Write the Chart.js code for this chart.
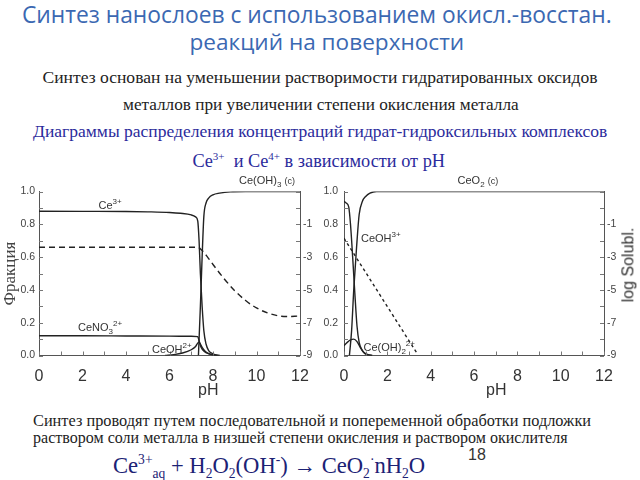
<!DOCTYPE html>
<html>
<head>
<meta charset="utf-8">
<script src="https://cdn.jsdelivr.net/npm/chart.js@4.4.0/dist/chart.umd.min.js"></script>
<style>
  body { margin: 0; background: #fff; }
  #slide { position: relative; width: 640px; height: 480px; overflow: hidden; background: #fff; }
  .t { position: absolute; white-space: nowrap; line-height: 1; }
  .ttl { font-family: "Open Sans", sans-serif; color: #3b68b2; font-size: 23px; }
  .srf { font-family: "Liberation Serif", serif; font-size: 17px; color: #222; }
  .blue { color: #2b2b9c; }
  .lbl { font-family: "Liberation Sans", sans-serif; font-size: 11px; color: #333; }
  .lbl sup, .lbl sub { font-size: 8px; }
  .ax { font-family: "Liberation Sans", sans-serif; font-size: 16px; color: #333; }
  .eq { font-family: "Liberation Serif", serif; font-size: 20px; color: #1c2275; }
  .eq sup, .eq sub, .blue sup { font-size: 60%; }
  canvas { position: absolute; }
  #wrapL { position: absolute; left: 0; top: 170px; width: 320px; height: 230px; }
  #wrapR { position: absolute; left: 312px; top: 170px; width: 328px; height: 230px; }
</style>
</head>
<body>
<div id="slide">
  <div class="t ttl" data-cx="317" data-y="15" data-w="590">Синтез нанослоев с использованием окисл.-восстан.</div>
  <div class="t ttl" data-cx="327" data-y="42" data-w="275">реакций на поверхности</div>
  <div class="t srf" data-cx="320" data-y="78" data-w="556">Синтез основан на уменьшении растворимости гидратированных оксидов</div>
  <div class="t srf" data-cx="321" data-y="104" data-w="396">металлов при увеличении степени окисления металла</div>
  <div class="t srf blue" data-cx="320" data-y="132" data-w="575">Диаграммы распределения концентраций гидрат-гидроксильных комплексов</div>
  <div class="t srf blue" data-cx="319" data-y="160" data-w="253">Ce<sup>3+</sup>&nbsp; и Ce<sup>4+</sup> в зависимости от pH</div>

  <div id="wrapL"><canvas id="chartL" width="320" height="230"></canvas></div>
  <div id="wrapR"><canvas id="chartR" width="328" height="230"></canvas></div>

  <div class="t lbl" data-cx="110" data-y="204">Ce<sup>3+</sup></div>
  <div class="t lbl" data-cx="267" data-y="182">Ce(OH)<sub>3</sub> <span style="font-size:9px">(c)</span></div>
  <div class="t lbl" data-cx="100" data-y="328">CeNO<sub>3</sub><sup>2+</sup></div>
  <div class="t lbl" data-cx="172" data-y="348">CeOH<sup>2+</sup></div>
  <div class="t lbl" data-cx="478" data-y="182">CeO<sub>2</sub> <span style="font-size:9px">(c)</span></div>
  <div class="t lbl" data-cx="381" data-y="237">CeOH<sup>3+</sup></div>
  <div class="t lbl" data-cx="389" data-y="348">Ce(OH)<sub>2</sub><sup>2+</sup></div>

  <div class="t ax" data-cx="208" data-y="390">pH</div>
  <div class="t ax" data-cx="496" data-y="390">pH</div>
  <div class="t ax" data-cx="628" data-y="265" style="transform: rotate(-90deg);">log Solubl.</div>

  <div class="t srf" data-y="421" data-w="559" style="left:33px">Синтез проводят путем последовательной и попеременной обработки подложки</div>
  <div class="t srf" data-y="438" data-w="535" style="left:33px">раствором соли металла в низшей степени окисления и раствором окислителя</div>
  <div class="t ax" data-cx="477" data-y="455">18</div>
  <div class="t eq" data-y="467" data-w="312" style="left:113px">Ce<sup>3+</sup><sub>aq</sub> + H<sub>2</sub>O<sub>2</sub>(OH<sup>-</sup>) &rarr; CeO<sub>2</sub><sup>·</sup>nH<sub>2</sub>O</div>
</div>

<script>
// Ce(III): fraction of species vs pH (left axis), log solubility (right axis)
const phCe3 = [0, 2, 4, 5, 6, 6.5, 7, 7.2, 7.3, 7.36, 7.42, 7.5, 7.58, 7.68, 7.8, 8.0, 8.3];
const fracCe3 = [0.88, 0.879, 0.878, 0.876, 0.872, 0.867, 0.857, 0.845, 0.82, 0.7, 0.5, 0.3, 0.15, 0.07, 0.03, 0.01, 0];
const phCeOH3c = [7.33, 7.42, 7.5, 7.58, 7.68, 7.8, 8.0, 8.3, 8.8, 9.5, 12];
const fracCeOH3c = [0, 0.3, 0.6, 0.85, 0.93, 0.96, 0.98, 0.99, 0.998, 1.0, 1.0];
const phCeNO3 = [0, 2, 4, 6, 7, 7.3, 7.36, 7.45, 7.6, 7.8, 8.0, 8.2];
const fracCeNO3 = [0.12, 0.12, 0.119, 0.118, 0.117, 0.115, 0.09, 0.05, 0.025, 0.01, 0.003, 0];
const phCeOH2 = [5.8, 6.2, 6.6, 7.0, 7.2, 7.33, 7.4, 7.5, 7.65, 7.85, 8.1, 8.3];
const fracCeOH2 = [0, 0.005, 0.015, 0.035, 0.055, 0.08, 0.075, 0.05, 0.025, 0.01, 0.002, 0];
const phSolL = [0, 7.3, 7.5, 7.75, 8.0, 8.5, 9.0, 9.5, 10.0, 10.5, 11.0, 11.5, 11.9];
const logSolL = [-2.4, -2.4, -2.6, -3.0, -3.45, -4.3, -5.05, -5.65, -6.1, -6.4, -6.58, -6.62, -6.6];

// Ce(IV)
const phCe4 = [0, 0.1, 0.22, 0.3, 0.4, 0.5, 0.6, 0.7, 0.85, 1.05, 1.3];
const fracCe4 = [0.94, 0.93, 0.905, 0.8, 0.6, 0.38, 0.18, 0.08, 0.03, 0.008, 0];
const phCeO2 = [0.25, 0.35, 0.45, 0.58, 0.7, 0.85, 1.0, 1.2, 1.5, 12];
const fracCeO2 = [0, 0.15, 0.4, 0.66, 0.86, 0.94, 0.97, 0.99, 1.0, 1.0];
const phCeOH22 = [0, 0.15, 0.3, 0.45, 0.6, 0.75, 0.9, 1.05, 1.3];
const fracCeOH22 = [0.06, 0.08, 0.095, 0.1, 0.085, 0.05, 0.02, 0.006, 0];
const phSolR = [0, 3.37];
const logSolR = [-1.85, -8.87];

const pHTicks = [0, 2, 4, 6, 8, 10, 12];

function pts(xs, ys) { return xs.map((x, i) => ({ x: x, y: ys[i] })); }

function line(xs, ys, axis, dash) {
  return {
    data: pts(xs, ys), yAxisID: axis,
    borderColor: '#222', borderWidth: 1.4,
    borderDash: dash || [], pointRadius: 0,
    cubicInterpolationMode: 'monotone', fill: false
  };
}

// small tick marks pointing into the plot
const innerTicks = {
  id: 'innerTicks',
  afterDraw(chart) {
    const ctx = chart.ctx, a = chart.chartArea;
    ctx.save();
    ctx.strokeStyle = '#777';
    ctx.lineWidth = 1;
    Object.values(chart.scales).forEach(s => {
      s.ticks.forEach(t => {
        const p = Math.round(s.getPixelForValue(t.value)) + 0.5;
        ctx.beginPath();
        if (s.axis === 'x') { ctx.moveTo(p, a.bottom); ctx.lineTo(p, a.bottom - 4); }
        else if (s.position === 'left') { ctx.moveTo(a.left, p); ctx.lineTo(a.left + 4, p); }
        else { ctx.moveTo(a.right, p); ctx.lineTo(a.right - 4, p); }
        ctx.stroke();
      });
    });
    ctx.restore();
  }
};

const noGrid = { display: false, drawTicks: false };

function makeChart(id, datasets, leftW, rightW, leftPad, yTitle) {
  return new Chart(document.getElementById(id), {
    type: 'line',
    data: { datasets: datasets },
    plugins: [innerTicks],
    options: {
      responsive: false,
      animation: false,
      layout: { padding: { top: 21.5, left: 0, right: 0, bottom: 0 } },
      plugins: { legend: { display: false }, tooltip: { enabled: false } },
      scales: {
        x: {
          type: 'linear', min: 0, max: 12,
          grid: noGrid,
          border: { display: true, color: '#555', width: 1 },
          ticks: {
            stepSize: 1, autoSkip: false, maxRotation: 0, padding: 11,
            color: '#333', font: { family: 'Liberation Sans', size: 16 },
            callback: v => pHTicks.includes(v) ? String(v) : ''
          },
          afterFit: s => { s.height = 44.5; }
        },
        y: {
          position: 'left', min: 0, max: 1,
          grid: noGrid,
          border: { display: true, color: '#555', width: 1 },
          title: {
            display: !!yTitle, text: yTitle || '', padding: 0,
            color: '#444', font: { family: 'Liberation Serif', size: 17 }
          },
          ticks: {
            stepSize: 0.1, autoSkip: false, padding: leftPad,
            color: '#444', font: { family: 'Liberation Sans', size: 10.5 },
            callback: (v, i) => i % 2 === 0 ? v.toFixed(1) : ''
          },
          afterFit: s => { s.width = leftW; }
        },
        y2: {
          position: 'right', min: -9, max: 1,
          grid: noGrid,
          border: { display: true, color: '#555', width: 1 },
          ticks: {
            stepSize: 1, autoSkip: false, padding: 3,
            color: '#444', font: { family: 'Liberation Sans', size: 10.5 },
            callback: v => (v <= -1 && Math.abs(v) % 2 === 1) ? String(v) : ''
          },
          afterFit: s => { s.width = rightW; }
        }
      }
    }
  });
}

makeChart('chartL', [
  line(phCe3, fracCe3, 'y'),
  line(phCeOH3c, fracCeOH3c, 'y'),
  line(phCeNO3, fracCeNO3, 'y'),
  line(phCeOH2, fracCeOH2, 'y'),
  line(phSolL, logSolL, 'y2', [6, 4])
], 39, 20, 4, 'Фракция');

makeChart('chartR', [
  line(phCe4, fracCe4, 'y'),
  line(phCeO2, fracCeO2, 'y'),
  line(phCeOH22, fracCeOH22, 'y'),
  line(phSolR, logSolR, 'y2', [3, 3])
], 32, 36, 6, '');

// text layout: fit widths and centre lines
document.querySelectorAll('[data-w]').forEach(el => {
  const fs = parseFloat(getComputedStyle(el).fontSize);
  el.style.fontSize = (fs * (+el.dataset.w) / el.offsetWidth) + 'px';
});
document.querySelectorAll('[data-y]').forEach(el => {
  el.style.top = (+el.dataset.y - el.offsetHeight / 2) + 'px';
  if (el.dataset.cx) el.style.left = (+el.dataset.cx - el.offsetWidth / 2) + 'px';
});
</script>
</body>
</html>
